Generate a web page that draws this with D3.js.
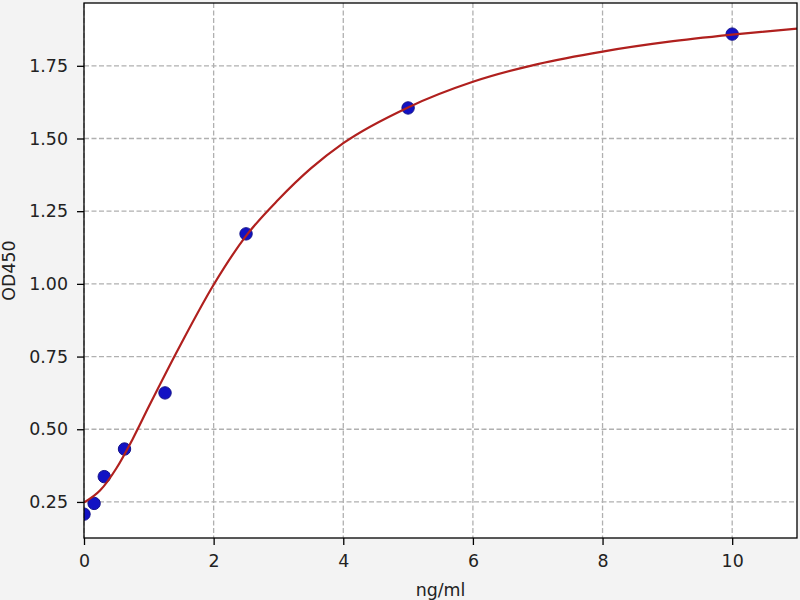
<!DOCTYPE html>
<html>
<head>
<meta charset="utf-8">
<script src="https://cdn.jsdelivr.net/npm/d3@7"></script>
<style>
  html, body { margin: 0; padding: 0; background: #f3f3f3; }
  svg { display: block; font-family: "DejaVu Sans", sans-serif; }
</style>
</head>
<body>
<svg id="chart" width="800" height="600"></svg>
<script>
// Measured standards (ng/ml vs OD450)
const concentrations = [0, 0.156, 0.3125, 0.625, 1.25, 2.5, 5, 10];
const odValues = [0.208, 0.245, 0.337, 0.432, 0.625, 1.172, 1.605, 1.859];

// Fitted curve
const curveX = [0, 0.25, 0.5, 0.75, 1, 1.5, 2, 2.5, 3, 3.5, 4, 5, 6, 7, 8, 9, 10, 11];
const curveY = [0.248, 0.29, 0.366, 0.466, 0.578, 0.795, 0.997, 1.165, 1.29, 1.397, 1.484, 1.607, 1.695, 1.756, 1.799, 1.832, 1.857, 1.878];

const xTicks = [0, 2, 4, 6, 8, 10];
const yTicks = [0.25, 0.50, 0.75, 1.00, 1.25, 1.50, 1.75];
const xLabel = "ng/ml";
const yLabel = "OD450";

const svg = d3.select("#chart");
const pL = 84, pR = 797, pT = 3, pB = 538;
const fs = "17.4px";

const x = d3.scaleLinear().domain([0, 11]).range([pL, pR]);
const y = d3.scaleLinear().domain([0.126, 1.966]).range([pB, pT]);

// plot background
svg.append("rect").attr("x", pL).attr("y", pT)
  .attr("width", pR - pL).attr("height", pB - pT).attr("fill", "#ffffff");

svg.append("clipPath").attr("id", "clip").append("rect")
  .attr("x", pL).attr("y", pT).attr("width", pR - pL).attr("height", pB - pT);

// grid
const grid = svg.append("g").attr("stroke", "#b0b0b0").attr("stroke-width", 1.3)
  .attr("stroke-dasharray", "5,2.5");
grid.selectAll("line.vx").data(xTicks).join("line").attr("class", "vx")
  .attr("x1", d => x(d)).attr("x2", d => x(d)).attr("y1", pT).attr("y2", pB);
grid.selectAll("line.hy").data(yTicks).join("line").attr("class", "hy")
  .attr("y1", d => y(d)).attr("y2", d => y(d)).attr("x1", pL).attr("x2", pR);

const plot = svg.append("g").attr("clip-path", "url(#clip)");

// points
plot.selectAll("circle").data(concentrations).join("circle")
  .attr("cx", d => x(d)).attr("cy", (d, i) => y(odValues[i]))
  .attr("r", 6.2).attr("fill", "#1212c4").attr("stroke", "#14128a").attr("stroke-width", 1);

// curve
const line = d3.line().x(d => x(d[0])).y(d => y(d[1])).curve(d3.curveMonotoneX);
plot.append("path").datum(curveX.map((v, i) => [v, curveY[i]]))
  .attr("d", line).attr("fill", "none").attr("stroke", "#b0201e").attr("stroke-width", 2.2);

// frame
svg.append("rect").attr("x", pL).attr("y", pT)
  .attr("width", pR - pL).attr("height", pB - pT)
  .attr("fill", "none").attr("stroke", "#000").attr("stroke-width", 1.3);

// axes
const xAxis = d3.axisBottom(x).tickValues(xTicks).tickFormat(d3.format("d")).tickSize(7).tickPadding(10);
const gx = svg.append("g").attr("transform", `translate(0,${pB})`).call(xAxis);
const yAxis = d3.axisLeft(y).tickValues(yTicks).tickFormat(d3.format(".2f")).tickSize(7).tickPadding(9);
const gy = svg.append("g").attr("transform", `translate(${pL},0)`).call(yAxis);
[gx, gy].forEach(g => {
  g.select(".domain").remove();
  g.selectAll(".tick line").attr("stroke", "#000").attr("stroke-width", 1.3);
  g.selectAll(".tick text").attr("fill", "#222").style("font-size", fs)
    .style("font-family", "DejaVu Sans, sans-serif");
});

svg.append("text").attr("x", (pL + pR) / 2).attr("y", 596)
  .attr("text-anchor", "middle").attr("fill", "#222").style("font-size", fs).text(xLabel);
svg.append("text").attr("transform", `translate(15,${(pT + pB) / 2}) rotate(-90)`)
  .attr("text-anchor", "middle").attr("fill", "#222").style("font-size", fs).text(yLabel);
</script>
</body>
</html>
